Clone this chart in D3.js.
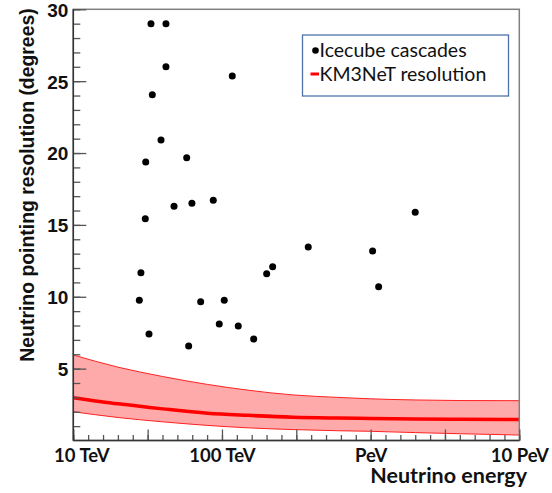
<!DOCTYPE html>
<html>
<head>
<meta charset="utf-8">
<script src="https://cdn.jsdelivr.net/npm/d3@7"></script>
<style>
  html, body { margin: 0; padding: 0; background: #fff; }
  svg { display: block; }
</style>
</head>
<body>
<svg id="chart" width="552" height="493"></svg>
<script>
// ---------------- data ----------------
// IceCube cascade events: energy (TeV) and angular resolution (degrees)
const eventEnergy = [33.3, 42.0, 42.0, 117.3, 34.0, 38.9, 57.9, 30.7,
                     30.5, 47.6, 62.8, 87.4, 28.5, 27.8, 71.9, 103.6,
                     32.3, 95.9, 128.7, 59.7, 163.4, 199.8, 219.3,
                     1995, 380.5, 1031, 1132];
const eventResolution = [29.0, 29.0, 26.0, 25.36, 24.06, 20.91, 19.68, 19.38,
                         15.43, 16.29, 16.5, 16.71, 11.67, 9.75, 9.66, 9.75,
                         7.41, 8.1, 7.97, 6.57, 7.06, 11.6, 12.09,
                         15.88, 13.46, 13.18, 10.7];

// KM3NeT resolution band
const bandEnergy  = [10, 20, 40, 80, 150, 300, 600, 1000, 2000, 4000, 10000];
const bandUpper   = [5.95, 5.1, 4.45, 3.9, 3.5, 3.17, 3.0, 2.9, 2.82, 2.78, 2.77];
const bandCentral = [2.98, 2.55, 2.2, 1.9, 1.75, 1.62, 1.56, 1.53, 1.5, 1.48, 1.46];
const bandLower   = [2.0, 1.6, 1.3, 1.05, 0.88, 0.76, 0.68, 0.64, 0.55, 0.47, 0.38];

// axes
const xTickValues = [10, 100, 1000, 10000];
const xTickLabels = ["10 TeV", "100 TeV", "PeV", "10 PeV"];
const yTickValues = [5, 10, 15, 20, 25, 30];
const yDomain = [0, 30];
const xDomain = [10, 10000];

const legendLabels = ["Icecube cascades", "KM3NeT resolution"];
const xTitle = "Neutrino energy";
const yTitle = "Neutrino pointing resolution (degrees)";

// ---------------- drawing ----------------
const svg = d3.select("#chart");
const L = 73.3, R = 519.3, T = 9.3, B = 440.5;

const x = d3.scaleLog().domain(xDomain).range([L, R]);
const y = d3.scaleLinear().domain(yDomain).range([B, T]);

// band
const band = bandEnergy.map((e, i) => ({e, lo: bandLower[i], hi: bandUpper[i], c: bandCentral[i]}));
const curve = d3.curveMonotoneX;
svg.append("path")
  .datum(band)
  .attr("d", d3.area().curve(curve).x(d => x(d.e)).y0(d => y(d.lo)).y1(d => y(d.hi)))
  .attr("fill", "#ffaaaa")
  .attr("stroke", "none");
["lo", "hi"].forEach(k => {
  svg.append("path")
    .datum(band)
    .attr("d", d3.line().curve(curve).x(d => x(d.e)).y(d => y(d[k])))
    .attr("fill", "none")
    .attr("stroke", "#ff2020")
    .attr("stroke-width", 1);
});
svg.append("path")
  .datum(band)
  .attr("d", d3.line().curve(curve).x(d => x(d.e)).y(d => y(d.c)))
  .attr("fill", "none")
  .attr("stroke", "#ff0000")
  .attr("stroke-width", 3.5);

// frame
svg.append("rect")
  .attr("x", L).attr("y", T).attr("width", R - L).attr("height", B - T)
  .attr("fill", "none").attr("stroke", "#808080").attr("stroke-width", 1.5);

// x axis ticks (log10 axis, minor every 0.1 decade, major every 0.5 decade)
const lg0 = Math.log10(xDomain[0]), lg1 = Math.log10(xDomain[1]);
const xMinor = d3.range(0, Math.round((lg1 - lg0) * 10) + 1).map(k => Math.pow(10, lg0 + k * 0.1));
const xMajor = xMinor.filter((d, k) => k % 5 === 0);
function styleAxis(g) {
  g.select(".domain").remove();
  g.selectAll(".tick line").attr("stroke", "#555").attr("stroke-width", 1.3);
}
svg.append("g").attr("transform", `translate(0,${B})`)
  .call(d3.axisBottom(x).tickValues(xMinor).tickSize(-5.5).tickFormat(""))
  .call(styleAxis);
svg.append("g").attr("transform", `translate(0,${B})`)
  .call(d3.axisBottom(x).tickValues(xMajor).tickSize(-11).tickFormat(""))
  .call(styleAxis);
// x tick labels
const xl = svg.append("g").attr("transform", `translate(0,${B})`)
  .call(d3.axisBottom(x).tickValues(xTickValues).tickSize(0)
        .tickFormat((d, i) => xTickLabels[i]));
xl.select(".domain").remove();
xl.selectAll("text")
  .attr("y", 21)
  .attr("dy", 0)
  .attr("dx", (d, i) => i === 0 ? 8 : 0)
  .attr("font-family", "Lato, 'Open Sans', sans-serif")
  .attr("font-size", 18.5)
  .attr("font-weight", "bold")
  .attr("fill", "#111");

// y axis ticks
const yMinor = d3.range(1, 31);
svg.append("g").attr("transform", `translate(${L},0)`)
  .call(d3.axisLeft(y).tickValues(yMinor).tickSize(-7).tickFormat(""))
  .call(styleAxis);
svg.append("g").attr("transform", `translate(${L},0)`)
  .call(d3.axisLeft(y).tickValues(yTickValues).tickSize(-13).tickFormat(""))
  .call(styleAxis);
const yl = svg.append("g").attr("transform", `translate(${L},0)`)
  .call(d3.axisLeft(y).tickValues(yTickValues).tickSize(0).tickFormat(d3.format("d")));
yl.select(".domain").remove();
yl.selectAll("text")
  .attr("x", -5)
  .attr("dy", "0.36em")
  .attr("font-family", "'Liberation Sans', Arial, sans-serif")
  .attr("font-size", 19)
  .attr("font-weight", "bold")
  .attr("fill", "#111");

// axis lines left & bottom (darker)
svg.append("line").attr("x1", L).attr("x2", L).attr("y1", T).attr("y2", B)
  .attr("stroke", "#333").attr("stroke-width", 1.5);
svg.append("line").attr("x1", L).attr("x2", R).attr("y1", B).attr("y2", B)
  .attr("stroke", "#333").attr("stroke-width", 1.5);

// points
svg.append("g").selectAll("circle")
  .data(eventEnergy.map((e, i) => ({e, r: eventResolution[i]})))
  .join("circle")
  .attr("cx", d => x(d.e))
  .attr("cy", d => y(d.r))
  .attr("r", 3.5)
  .attr("fill", "#000");

// axis titles
svg.append("text")
  .attr("x", 527).attr("y", 483)
  .attr("text-anchor", "end")
  .attr("font-family", "Lato, 'Open Sans', sans-serif")
  .attr("font-size", 21.5)
  .attr("font-weight", "bold")
  .attr("fill", "#111")
  .text(xTitle);
svg.append("text")
  .attr("transform", "translate(33.5,185) rotate(-90)")
  .attr("text-anchor", "middle")
  .attr("font-family", "'Liberation Sans', Arial, sans-serif")
  .attr("font-size", 19.4)
  .attr("font-weight", "bold")
  .attr("fill", "#111")
  .text(yTitle);

// legend
const lg = svg.append("g");
lg.append("rect")
  .attr("x", 302.5).attr("y", 35).attr("width", 206).attr("height", 61)
  .attr("fill", "#fff").attr("stroke", "#4f73a8").attr("stroke-width", 1.3);
lg.append("circle").attr("cx", 315.5).attr("cy", 50.5).attr("r", 3.3).attr("fill", "#000");
lg.append("line").attr("x1", 310.5).attr("x2", 319).attr("y1", 74).attr("y2", 74)
  .attr("stroke", "#ff0000").attr("stroke-width", 3);
lg.selectAll("text.leg")
  .data(legendLabels)
  .join("text")
  .attr("class", "leg")
  .attr("x", 319.5)
  .attr("y", (d, i) => 57 + i * 23.5)
  .attr("font-family", "Lato, 'Open Sans', sans-serif")
  .attr("font-size", 19.5)
  .attr("fill", "#111")
  .text(d => d);
</script>
</body>
</html>
